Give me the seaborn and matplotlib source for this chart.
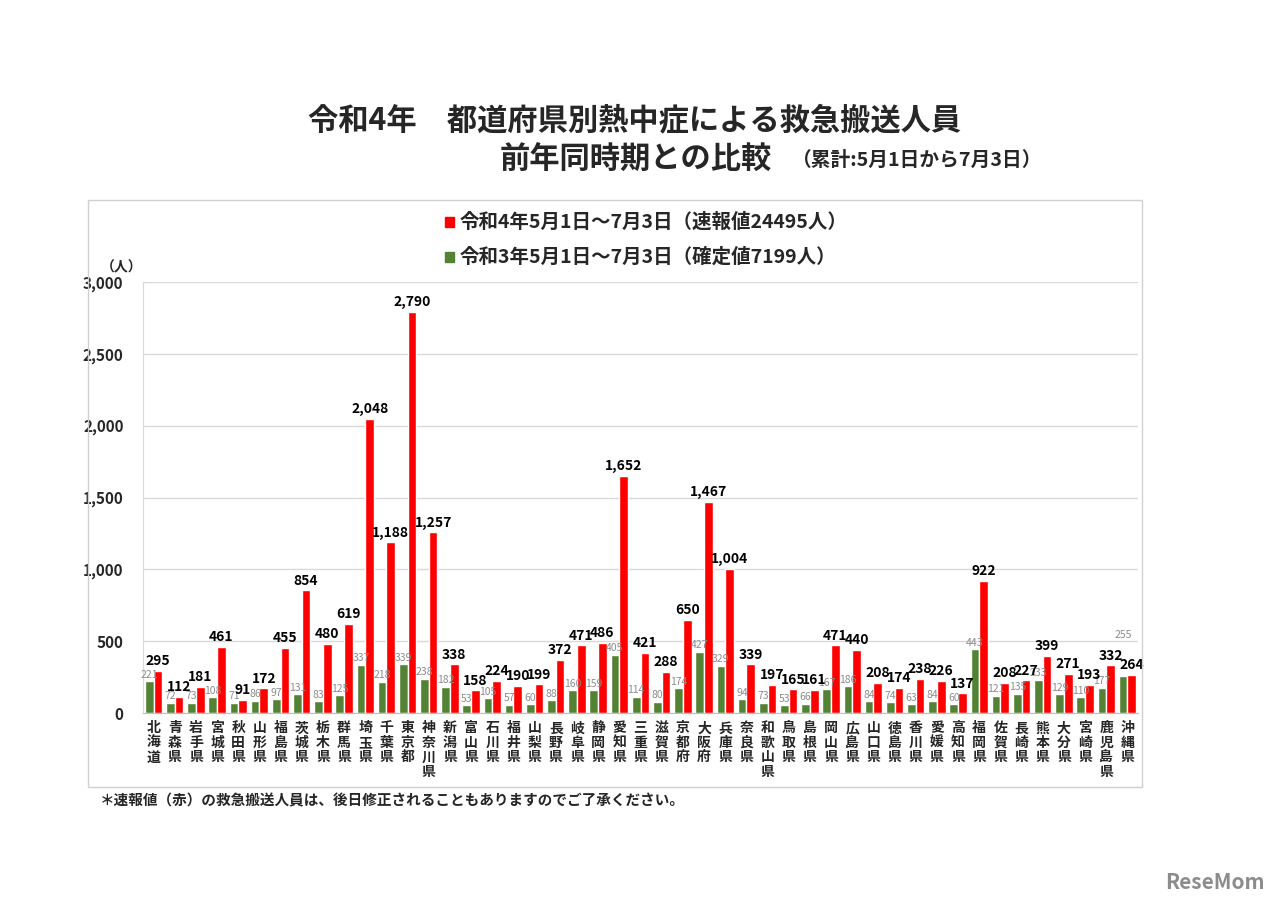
import pandas as pd
import matplotlib.pyplot as plt
import seaborn as sns
from matplotlib.patches import Rectangle
from matplotlib.ticker import FuncFormatter, MultipleLocator

sns.set_style('white')
plt.rcParams['font.family'] = ['Noto Sans CJK JP', 'DejaVu Sans']

# 都道府県
prefectures = ['北海道', '青森県', '岩手県', '宮城県', '秋田県', '山形県', '福島県', '茨城県',
               '栃木県', '群馬県', '埼玉県', '千葉県', '東京都', '神奈川県', '新潟県', '富山県',
               '石川県', '福井県', '山梨県', '長野県', '岐阜県', '静岡県', '愛知県', '三重県',
               '滋賀県', '京都府', '大阪府', '兵庫県', '奈良県', '和歌山県', '鳥取県', '島根県',
               '岡山県', '広島県', '山口県', '徳島県', '香川県', '愛媛県', '高知県', '福岡県',
               '佐賀県', '長崎県', '熊本県', '大分県', '宮崎県', '鹿児島県', '沖縄県']

# 令和4年（速報値）
r4_values = [295, 112, 181, 461, 91, 172, 455, 854, 480, 619, 2048, 1188, 2790, 1257,
             338, 158, 224, 190, 199, 372, 471, 486, 1652, 421, 288, 650, 1467, 1004,
             339, 197, 165, 161, 471, 440, 208, 174, 238, 226, 137, 922, 208, 227,
             399, 271, 193, 332, 264]

# 令和3年（確定値）
r3_values = [221, 72, 73, 108, 71, 86, 97, 131, 83, 125, 337, 218, 339, 238,
             182, 53, 105, 57, 60, 88, 160, 159, 405, 114, 80, 174, 427, 329,
             94, 73, 53, 66, 167, 186, 84, 74, 63, 84, 60, 443, 121, 135,
             233, 129, 110, 177, 255]

label_r4 = '令和4年5月1日～7月3日（速報値24495人）'
label_r3 = '令和3年5月1日～7月3日（確定値7199人）'

RED = '#FF0000'
GREEN = '#548235'

df = pd.DataFrame({
    '都道府県': prefectures * 2,
    '人数': r3_values + r4_values,
    '期間': [label_r3] * len(prefectures) + [label_r4] * len(prefectures),
})

fig = plt.figure(figsize=(12.8, 9.05), dpi=100)

# チャート枠
fig.patches.append(Rectangle((88 / 1280, 1 - 787 / 905), (1142 - 88) / 1280, (787 - 200) / 905,
                             transform=fig.transFigure, fill=False, edgecolor='#d0d0d0', lw=1))

ax = fig.add_axes([143 / 1280, 1 - 713 / 905, (1138 - 143) / 1280, (713 - 282) / 905])
sns.barplot(data=df, x='都道府県', y='人数', hue='期間', hue_order=[label_r3, label_r4],
            palette=[GREEN, RED], width=0.82, ax=ax, legend=False, saturation=1)

ax.set_ylim(0, 3000)
ax.set_xlim(-0.5, len(prefectures) - 0.5)
ax.yaxis.set_major_locator(MultipleLocator(500))
ax.yaxis.set_major_formatter(FuncFormatter(lambda v, p: f'{int(v):,}'))
ax.grid(axis='y', color='#d9d9d9', lw=1)
ax.set_axisbelow(True)
ax.set_xlabel('')
ax.set_ylabel('')
for s in ['top', 'right']:
    ax.spines[s].set_visible(False)
ax.spines['left'].set_color('#d9d9d9')
ax.spines['bottom'].set_color('#bfbfbf')

for t in ax.get_yticklabels():
    t.set_fontweight('bold')
    t.set_fontsize(11)
ax.tick_params(axis='y', length=0, pad=14)

# 縦書きの都道府県名
ax.set_xticks(range(len(prefectures)))
ax.set_xticklabels(['\n'.join(p) for p in prefectures], fontsize=10, fontweight='bold',
                   linespacing=1.05, va='top')
ax.tick_params(axis='x', length=0, pad=6)
ax.set_xticks([i + 0.5 for i in range(len(prefectures) - 1)], minor=True)
ax.tick_params(axis='x', which='minor', length=4, color='#bfbfbf')

# 数値ラベル（沖縄の前年値は上にずらす）
green_labels = [str(v) for v in r3_values[:-1]] + ['']
ax.bar_label(ax.containers[0], labels=green_labels, fontsize=7.5, color='#8c8c8c', padding=1)
last_bar = ax.containers[0][-1]
ax.annotate(str(r3_values[-1]), (last_bar.get_x() + last_bar.get_width() / 2, r3_values[-1]),
            xytext=(0, 26), textcoords='offset points', ha='center', va='bottom',
            fontsize=7.5, color='#8c8c8c')
ax.bar_label(ax.containers[1], labels=[f'{v:,}' for v in r4_values],
             fontsize=10, fontweight='bold', color='black', padding=2)

ax.text(122 / 1280, 1 - 267 / 905, '（人）', transform=fig.transFigure, fontsize=10,
        fontweight='bold', ha='center', va='center')

# 凡例
leg_items = [(label_r4, RED, 222), (label_r3, GREEN, 257)]
for text, col, y in leg_items:
    fig.patches.append(Rectangle((445 / 1280, 1 - (y + 5) / 905), 9 / 1280, 10 / 905,
                                 transform=fig.transFigure, color=col))
    fig.text(460 / 1280, 1 - y / 905, text, fontsize=14, fontweight='bold', va='center', ha='left')

# タイトル
fig.text(635 / 1280, 1 - 120 / 905, '令和4年　都道府県別熱中症による救急搬送人員',
         fontsize=21.8, fontweight='bold', ha='center', va='center')
fig.text(500 / 1280, 1 - 160 / 905, '前年同時期との比較',
         fontsize=21.8, fontweight='bold', ha='left', va='center')
fig.text(792 / 1280, 1 - 160 / 905, '（累計:5月1日から7月3日）',
         fontsize=14.2, fontweight='bold', ha='left', va='center')

# 注記
fig.text(100 / 1280, 1 - 800 / 905, '＊速報値（赤）の救急搬送人員は、後日修正されることもありますのでご了承ください。',
         fontsize=10.5, fontweight='bold', ha='left', va='center')

fig.text(1265 / 1280, 1 - 882 / 905, 'ReseMom', fontsize=15, fontweight='bold', color='#8c8c8c',
         ha='right', va='center')

plt.savefig('out.png', dpi=100)
